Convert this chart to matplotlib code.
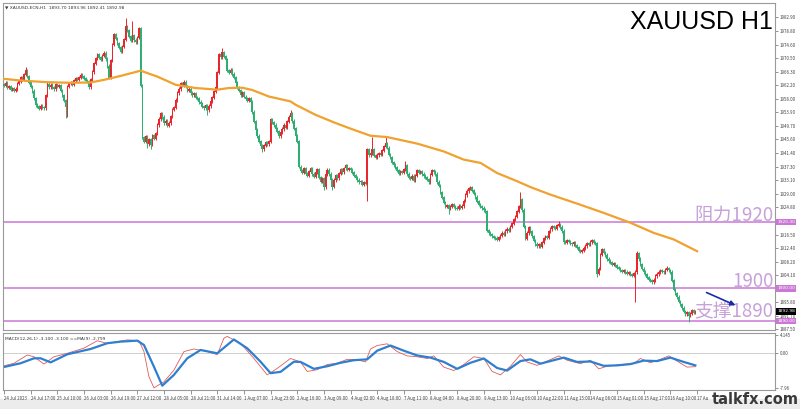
import numpy as np
import matplotlib.pyplot as plt
from matplotlib.patches import Rectangle

# --- hourly closes, XAUUSD H1, 24 Jul - 17 Aug 2023 ---
closes = [
    1962.0, 1962.8, 1961.5, 1961.8, 1960.9, 1961.2, 1960.5, 1961.0, 1962.6, 1963.2, 1964.6, 1963.8, 1965.4, 1966.6, 1964.8, 1963.0,
    1961.8, 1960.4, 1958.2, 1956.1, 1955.6, 1955.0, 1955.8, 1955.3, 1955.2, 1959.0, 1962.5, 1961.6, 1962.2, 1961.4, 1961.0, 1962.4,
    1961.7, 1962.0, 1960.6, 1959.0, 1957.4, 1955.6, 1961.8, 1962.6, 1963.0, 1962.4, 1963.5, 1964.2, 1963.8, 1964.6, 1965.3, 1964.9,
    1964.2, 1963.6, 1963.4, 1961.6, 1963.9, 1966.2, 1968.8, 1970.4, 1971.6, 1970.6, 1970.0, 1971.2, 1972.0, 1970.2, 1968.0, 1964.6,
    1969.8, 1974.5, 1977.6, 1976.4, 1975.0, 1973.6, 1972.4, 1973.9, 1976.2, 1980.1, 1978.8, 1977.0, 1975.8, 1977.4, 1976.0, 1975.4,
    1976.8, 1979.6, 1962.0, 1946.2, 1945.0, 1946.5, 1944.2, 1945.6, 1944.0, 1946.8, 1945.8, 1947.5, 1950.0, 1951.8, 1953.6, 1952.4,
    1950.6, 1951.2, 1949.8, 1950.6, 1952.6, 1954.8, 1955.4, 1957.6, 1959.8, 1961.0, 1962.6, 1962.0, 1963.1, 1961.8, 1960.6, 1961.0,
    1959.8, 1959.2, 1959.6, 1958.4, 1958.0, 1957.0, 1956.6, 1955.6, 1955.2, 1956.0, 1954.6, 1955.8, 1957.2, 1958.4, 1960.2, 1961.6,
    1966.0, 1971.6, 1970.8, 1972.2, 1971.0, 1970.0, 1966.6, 1966.0, 1966.8, 1965.6, 1964.6, 1963.0, 1961.4, 1960.6, 1959.2, 1960.0,
    1958.6, 1958.0, 1957.4, 1958.2, 1957.0, 1954.0, 1951.0, 1948.6, 1946.6, 1945.0, 1943.6, 1942.6, 1943.8, 1944.6, 1944.2, 1945.0,
    1951.6, 1950.8, 1950.0, 1948.8, 1948.0, 1946.6, 1947.6, 1948.8, 1950.0, 1949.2, 1951.0, 1952.4, 1953.6, 1951.2, 1949.0, 1946.8,
    1945.0, 1937.2, 1936.0, 1935.4, 1936.6, 1935.2, 1934.6, 1935.8, 1936.8, 1935.0, 1934.2, 1935.6, 1936.4, 1934.0, 1932.8, 1933.6,
    1931.0, 1934.8, 1936.2, 1935.0, 1933.4, 1931.2, 1933.2, 1934.6, 1933.8, 1935.2, 1936.4, 1935.6, 1936.8, 1937.6, 1936.4, 1936.8,
    1936.2, 1935.4, 1934.6, 1934.0, 1933.2, 1932.6, 1932.8, 1931.8, 1932.4, 1932.0, 1942.6, 1940.8, 1941.4, 1942.6, 1940.6, 1940.0,
    1940.8, 1941.2, 1941.0, 1942.2, 1943.4, 1944.4, 1943.0, 1941.0, 1940.0, 1938.6, 1937.8, 1937.0, 1936.0, 1935.2, 1935.8, 1935.4,
    1936.4, 1937.6, 1935.0, 1934.0, 1933.6, 1934.4, 1933.0, 1934.6, 1936.0, 1935.4, 1935.8, 1935.0, 1934.4, 1934.0, 1933.4, 1932.6,
    1934.8, 1936.0, 1935.6, 1935.0, 1932.6, 1931.4, 1929.4, 1927.8, 1926.2, 1925.0, 1925.4, 1924.4, 1925.0, 1925.6, 1925.0, 1924.6,
    1924.4, 1925.2, 1924.8, 1925.2, 1926.8, 1928.6, 1929.8, 1930.6, 1930.8, 1930.0, 1929.0, 1928.0, 1926.6, 1925.6, 1925.0, 1924.6,
    1924.0, 1923.6, 1917.8, 1917.0, 1916.6, 1916.0, 1915.6, 1915.4, 1915.0, 1915.6, 1916.2, 1917.0, 1916.6, 1917.6, 1918.2, 1917.8,
    1919.0, 1919.8, 1921.2, 1922.0, 1923.6, 1925.0, 1927.2, 1924.0, 1919.0, 1915.2, 1917.0, 1918.6, 1917.4, 1916.0, 1914.6, 1913.6,
    1913.0, 1913.4, 1912.8, 1914.0, 1915.2, 1916.0, 1915.6, 1917.4, 1918.2, 1919.0, 1918.6, 1918.4, 1919.2, 1919.6, 1918.8, 1917.6,
    1914.2, 1914.0, 1914.6, 1914.4, 1913.8, 1913.6, 1914.0, 1913.2, 1912.6, 1911.6, 1911.2, 1911.6, 1912.4, 1913.0, 1913.8, 1913.4,
    1914.2, 1914.6, 1914.0, 1913.8, 1904.6, 1906.0, 1910.4, 1912.0, 1911.0, 1910.2, 1909.0, 1908.4, 1908.0, 1907.4, 1907.6, 1907.0,
    1906.4, 1906.0, 1905.6, 1905.2, 1905.6, 1905.0, 1904.6, 1904.8, 1904.2, 1904.0, 1904.6, 1905.0, 1910.8, 1909.0, 1907.4, 1906.0,
    1905.0, 1904.2, 1903.4, 1902.8, 1902.4, 1902.0, 1902.6, 1903.8, 1904.4, 1905.0, 1905.6, 1905.2, 1905.0, 1905.8, 1906.2, 1905.6,
    1905.0, 1902.4, 1899.6, 1898.4, 1897.4, 1896.0, 1895.2, 1894.0, 1893.0, 1892.2, 1892.6, 1891.8, 1892.4, 1893.2, 1892.6, 1892.98,
]
first_open = 1962.4
base_wick = 0.5

# long wicks seen on the chart
spike_idx = [13, 37, 38, 73, 77, 81, 86, 88, 122, 131, 155, 172, 192, 197, 218, 221, 229, 241, 267, 310, 333, 356, 379, 380, 398, 411]
spike_hi = [1967.6, None, None, 1982.6, 1981.8, 1980.0, None, None, None, 1973.6, None, 1954.6, None, None, None, 1946.4,
            1946.2, 1939.0, None, 1929.6, 1920.6, None, None, 1911.6, 1907.0, None]
spike_lo = [None, 1952.0, 1952.4, None, None, None, 1943.0, 1942.8, 1953.2, None, 1941.6, None, 1930.0, 1930.2, 1926.6, None,
            None, None, 1922.8, None, None, 1903.4, 1895.8, None, None, 1889.6]

# orange moving average
ma_x = [-2, 10, 25, 40, 52, 60, 70, 82, 92, 103, 115, 128, 135, 143, 149, 159, 172, 175, 187, 199, 209, 220, 230, 248,
        264, 276, 286, 296, 308, 316, 328, 346, 360, 376, 390, 402, 416]
ma_v = [1964.2, 1963.6, 1963.1, 1962.9, 1963.0, 1963.8, 1965.0, 1966.6, 1964.8, 1962.3, 1961.3, 1960.8, 1961.3, 1961.4,
        1960.7, 1958.7, 1957.2, 1956.2, 1953.1, 1950.6, 1948.7, 1946.7, 1946.3, 1944.3, 1941.9, 1939.4, 1938.4, 1935.3,
        1932.8, 1931.0, 1928.7, 1925.6, 1923.1, 1920.1, 1917.0, 1915.0, 1911.4]

# MACD(12,26,1) main line (red) and MA(9) signal (blue)
macd_x = [-2, 6, 14, 18, 24, 30, 38, 48, 56, 62, 74, 81, 84, 87, 90, 96, 102, 108, 114, 122, 128, 132, 134, 142, 150,
          158, 164, 172, 178, 182, 188, 194, 200, 206, 212, 217, 220, 224, 230, 236, 242, 248, 254, 258, 264, 270, 276,
          282, 288, 293, 298, 304, 310, 314, 320, 326, 333, 338, 346, 352, 357, 362, 370, 378, 382, 388, 394, 399, 404, 410, 415]
macd_v = [-3.1, -2.3, -0.4, -0.8, -2.5, -0.8, 0.0, 1.2, 2.9, 2.3, 3.1, 2.9, 0.4, -5.4, -8.0, -6.6, -3.9, 0.4, 1.0, 0.4,
          -0.3, 3.5, 3.9, 2.3, -1.2, -5.0, -3.5, -1.2, -2.0, -4.2, -3.8, -2.6, -2.3, -1.4, -1.5, -2.0, 1.0, 1.8, 2.2, 0.4,
          -0.6, -0.8, -1.2, -0.6, -3.2, -4.0, -2.6, -0.8, -1.2, -4.2, -5.0, -3.0, -0.3, -2.0, -2.8, -1.8, -0.6, -1.6, -2.4,
          -1.6, -3.6, -3.0, -2.6, -2.4, -1.2, -2.2, -1.4, -0.6, -1.8, -3.2, -3.1]
sig_x = [-2, 10, 18, 22, 28, 38, 52, 62, 70, 80, 84, 90, 95, 102, 110, 118, 128, 138, 146, 154, 160, 166, 174, 178,
         186, 194, 202, 210, 218, 224, 232, 240, 248, 256, 264, 272, 280, 288, 296, 302, 310, 316, 322, 330, 336, 344,
         352, 360, 368, 376, 384, 392, 400, 408, 415]
sig_v = [-3.35, -2.3, -1.16, -1.16, -2.1, -0.23, 1.0, 2.33, 2.7, 2.93, 1.93, -3.1, -7.5, -5.0, -1.16, 0.77, 0.0, 3.2,
         1.16, -1.95, -4.6, -4.3, -1.95, -2.0, -3.6, -3.0, -2.2, -1.6, -1.4, 0.6, 1.8, 0.6, -0.5, -1.0, -2.0, -3.6, -2.2,
         -1.2, -3.4, -4.0, -1.8, -1.4, -2.4, -1.6, -1.0, -2.0, -1.9, -2.9, -2.8, -2.5, -1.7, -1.8, -1.0, -2.0, -2.8]

price_ticks = [1982.90, 1978.80, 1974.60, 1970.50, 1966.30, 1962.20, 1958.00, 1953.90, 1949.70, 1945.60, 1941.40,
               1937.30, 1933.10, 1929.00, 1924.80, 1916.50, 1912.40, 1908.20, 1904.10, 1895.80, 1891.70, 1887.50]
date_labels = ['24 Jul 2023', '24 Jul 17:00', '25 Jul 10:00', '26 Jul 03:00', '26 Jul 19:00', '27 Jul 12:00',
               '28 Jul 05:00', '28 Jul 21:00', '31 Jul 14:00', '1 Aug 07:00', '1 Aug 23:00', '2 Aug 16:00',
               '3 Aug 09:00', '4 Aug 02:00', '4 Aug 18:00', '7 Aug 11:00', '8 Aug 04:00', '8 Aug 20:00',
               '9 Aug 13:00', '10 Aug 06:00', '10 Aug 22:00', '11 Aug 15:00', '14 Aug 08:00', '15 Aug 01:00',
               '15 Aug 17:00', '16 Aug 10:00', '17 Au']
levels = [1920.30, 1900.00, 1890.00]
level_texts = ['阻力1920', '1900', '支撑1890']
last_price = 1892.98

plt.rcParams['font.family'] = ['Noto Sans CJK SC', 'DejaVu Sans']

# --- build OHLC ---
c = np.array(closes)
o = np.concatenate([[first_open], c[:-1]])
hi = np.maximum(o, c) + base_wick
lo = np.minimum(o, c) - base_wick
for k, idx in enumerate(spike_idx):
    if spike_hi[k] is not None:
        hi[idx] = spike_hi[k]
    if spike_lo[k] is not None:
        lo[idx] = spike_lo[k]
x = np.arange(len(c))
up = c >= o
up_col, dn_col = '#e8262c', '#2fae72'
cols = np.where(up, up_col, dn_col)

fig = plt.figure(figsize=(8, 4.09), dpi=100)
W, H = 800, 409
ax = fig.add_axes([3 / W, 1 - 330 / H, 772 / W, 327 / H])
ax2 = fig.add_axes([3 / W, 1 - 390 / H, 772 / W, 57 / H])

# gray strip at the bottom
fig.patches.append(Rectangle((0, 0), 1, 10 / H, transform=fig.transFigure, color='#ececec', zorder=-5))

# --- candles ---
ax.vlines(x, lo, hi, colors=cols, lw=0.7, zorder=3)
ax.bar(x, np.abs(c - o) + 0.2, bottom=np.minimum(o, c) - 0.1, width=0.9, color=cols, lw=0, zorder=4)
ax.plot(ma_x, ma_v, color='#f0a12e', lw=1.6, zorder=5)

for lv in levels:
    ax.axhline(lv, color='#cc77d6', lw=1.1, zorder=2)

ax.text(462.0, 1920.8, level_texts[0], ha='right', va='baseline', fontsize=13.5, color='#c6a2d8', zorder=6)
ax.text(462.0, 1900.6, level_texts[1], ha='right', va='baseline', fontsize=13.5, color='#c6a2d8', zorder=6)
ax.text(462.0, 1891.2, level_texts[2], ha='right', va='baseline', fontsize=13.5, color='#c6a2d8', zorder=6)
ax.annotate('', xy=(440.6, 1894.5), xytext=(420.2, 1899.1),
            arrowprops=dict(arrowstyle='-|>', color='#1a2aa8', lw=1.2, mutation_scale=7), zorder=7)

ax.text(0.997, 0.979, 'XAUUSD H1', transform=ax.transAxes, ha='right', va='top', fontsize=18,
        family='Liberation Sans', color='black', zorder=8)
ax.text(0.003, 0.993, '\u25bc XAUUSD-ECN,H1  1893.70 1893.96 1892.41 1892.98', transform=ax.transAxes,
        ha='left', va='top', fontsize=3.2, family='DejaVu Sans', color='#333333')

ax.set_xlim(-0.6, 462.8)
ax.set_ylim(1887.3, 1987.3)
ax.set_xticks([])
ax.yaxis.tick_right()
ax.set_yticks(price_ticks)
ax.set_yticklabels([f'{v:.2f}' for v in price_ticks])
ax.tick_params(axis='y', labelsize=3.2, length=2, width=0.5, pad=1.5, colors='#666666', labelcolor='#444444')

trans = ax.get_yaxis_transform()
for lv in levels:
    ax.text(1.003, lv, f'{lv:.2f}', transform=trans, ha='left', va='center', fontsize=3.2, color='white',
            family='DejaVu Sans', bbox=dict(boxstyle='square,pad=0.25', fc='#cc77d6', ec='none'), clip_on=False)
ax.text(1.003, last_price, f'{last_price:.2f}', transform=trans, ha='left', va='center', fontsize=3.2, color='white',
        family='DejaVu Sans', bbox=dict(boxstyle='square,pad=0.25', fc='black', ec='none'), clip_on=False)

# --- MACD panel ---
ax2.axhline(0, color='#c8c8c8', lw=0.6)
ax2.plot(macd_x, macd_v, color='#e05a5a', lw=0.6)
ax2.plot(sig_x, sig_v, color='#2f7fd0', lw=1.6)
ax2.set_xlim(-0.6, 462.8)
ax2.set_ylim(-8.5, 4.7)
ax2.yaxis.tick_right()
ax2.set_yticks([4.145, 0.0, -7.96])
ax2.set_yticklabels(['4.145', '0.00', '-7.96'])
ax2.tick_params(axis='y', labelsize=3.2, length=2, width=0.5, pad=1.5, colors='#666666', labelcolor='#444444')
ax2.set_xticks(np.arange(len(date_labels)) * 16)
ax2.set_xticklabels(date_labels)
for lbl in ax2.get_xticklabels():
    lbl.set_ha('left')
ax2.tick_params(axis='x', labelsize=3.2, length=3, width=0.5, pad=1, colors='#666666', labelcolor='#444444')
ax2.text(0.003, 0.93, 'MACD(12,26,1) -3.100 -3.100 ==MA(9) -2.799', transform=ax2.transAxes, ha='left', va='top',
         fontsize=3.2, family='DejaVu Sans', color='#333333')

for a in (ax, ax2):
    for s in a.spines.values():
        s.set_color('#9a9a9a')
        s.set_linewidth(0.8)

fig.text(799 / W, 1 - 400 / H, 'talkfx.com', ha='right', va='center', fontsize=10.5, fontweight='bold',
         family='DejaVu Sans', color='#3a3a3a', zorder=10)

fig.savefig('out.png', dpi=100)
